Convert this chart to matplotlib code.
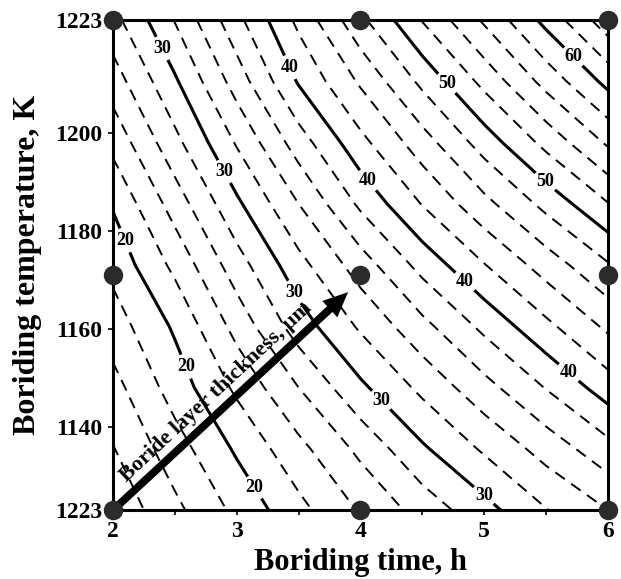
import matplotlib
matplotlib.use("Agg")
import matplotlib.pyplot as plt
import numpy as np

plt.rcParams["font.family"] = ["Liberation Serif", "DejaVu Serif"]
plt.rcParams["font.weight"] = "bold"

# Сетка: время борирования (ч) x температура (K)
times = [2.0, 2.5, 3.0, 3.5, 4.0, 4.5, 5.0, 5.5, 6.0]
temps = [1123.0, 1135.5, 1148.0, 1160.5, 1173.0, 1185.5, 1198.0, 1210.5, 1223.0]

# Толщина боридного слоя (мкм), строки снизу вверх по температуре
thickness = [
    [12.5, 15.5, 18.5, 21.4, 24.2, 26.8, 29.3, 31.9, 34.0],
    [13.9, 17.1, 20.3, 23.4, 26.5, 29.7, 32.3, 34.8, 37.3],
    [15.3, 18.9, 22.4, 26.0, 29.6, 32.5, 35.3, 38.1, 41.0],
    [17.0, 20.3, 24.7, 29.0, 32.3, 35.4, 38.5, 41.5, 44.4],
    [18.6, 22.5, 27.1, 31.3, 35.0, 38.7, 41.9, 44.9, 47.8],
    [20.2, 24.9, 29.6, 34.0, 38.4, 42.1, 45.4, 48.6, 51.9],
    [22.6, 27.4, 32.2, 37.0, 41.4, 45.1, 48.9, 52.6, 56.3],
    [25.0, 29.7, 34.9, 40.2, 44.3, 48.5, 52.6, 56.7, 60.6],
    [27.3, 32.1, 37.4, 42.5, 47.5, 52.1, 56.3, 60.6, 65.2],
]

# Экспериментальные точки
dot_times = [2.0, 4.0, 6.0]
dot_temps = [1123.0, 1171.0, 1223.0]

solid_levels = [20, 30, 40, 50, 60]
dashed_levels = [v for v in range(12, 66, 2) if v % 10]

# Где стоят подписи изолиний
label_pos = [
    (2.10, 1178.1), (2.58, 1152.2), (3.15, 1127.7),
    (2.40, 1217.3), (2.89, 1192.0), (3.45, 1167.3), (4.14, 1144.8), (5.02, 1126.7),
    (3.43, 1213.4), (4.01, 1189.3), (4.83, 1169.3), (5.68, 1151.0),
    (4.68, 1209.7), (5.49, 1190.0),
    (5.69, 1214.8),
]

y_ticks = [1123, 1140, 1160, 1180, 1200, 1223]
y_ticklabels = ["1223", "1140", "1160", "1180", "1200", "1223"]

fig, ax = plt.subplots(figsize=(6.21, 5.79), dpi=100)
fig.subplots_adjust(left=0.182, right=0.979, bottom=0.119, top=0.965)

T, K = np.meshgrid(times, temps)
Z = np.array(thickness)

ax.contour(T, K, Z, levels=dashed_levels, colors="black",
           linewidths=1.4, linestyles=[(0, (6, 4))])
cs = ax.contour(T, K, Z, levels=solid_levels, colors="black",
                linewidths=2.2, linestyles="solid")
labels = ax.clabel(cs, fmt="%d", manual=label_pos, inline=True,
                   inline_spacing=4, fontsize=13)
for t in labels:
    t.set_rotation(0)
    t.set_fontweight("bold")

ax.annotate("", xy=(3.9, 1167.5), xytext=(2.0, 1123.0),
            arrowprops=dict(arrowstyle="simple,head_length=0.9,head_width=0.8,tail_width=0.28",
                            color="black", mutation_scale=20, shrinkA=0, shrinkB=0, lw=0),
            annotation_clip=False, zorder=4)
ax.text(2.113, 1128.6, "Boride layer thickness, µm", rotation=43,
        rotation_mode="anchor", ha="left", va="baseline", fontsize=16,
        fontweight="bold", zorder=4)

for tk in dot_temps:
    ax.plot(dot_times, [tk] * len(dot_times), linestyle="none", marker="o",
            markersize=13, color="#2b2b2b", clip_on=False, zorder=5)

ax.set_xlim(2, 6)
ax.set_ylim(1123, 1223)
ax.set_xticks([2, 3, 4, 5, 6])
ax.set_xticks([2.5, 3.5, 4.5, 5.5], minor=True)
ax.set_yticks(y_ticks)
ax.set_yticklabels(y_ticklabels)
ax.tick_params(axis="both", which="both", direction="out", length=3.5, width=1.2,
               labelsize=17, pad=4)

for sp in ax.spines.values():
    sp.set_linewidth(2.2)

ax.set_xlabel("Boriding time, h", fontsize=22, fontweight="bold")
ax.set_ylabel("Boriding temperature, K", fontsize=23, fontweight="bold")
ax.xaxis.set_label_coords(0.5, -0.078)
ax.yaxis.set_label_coords(-0.143, 0.5)

fig.savefig("out.png", dpi=100)
